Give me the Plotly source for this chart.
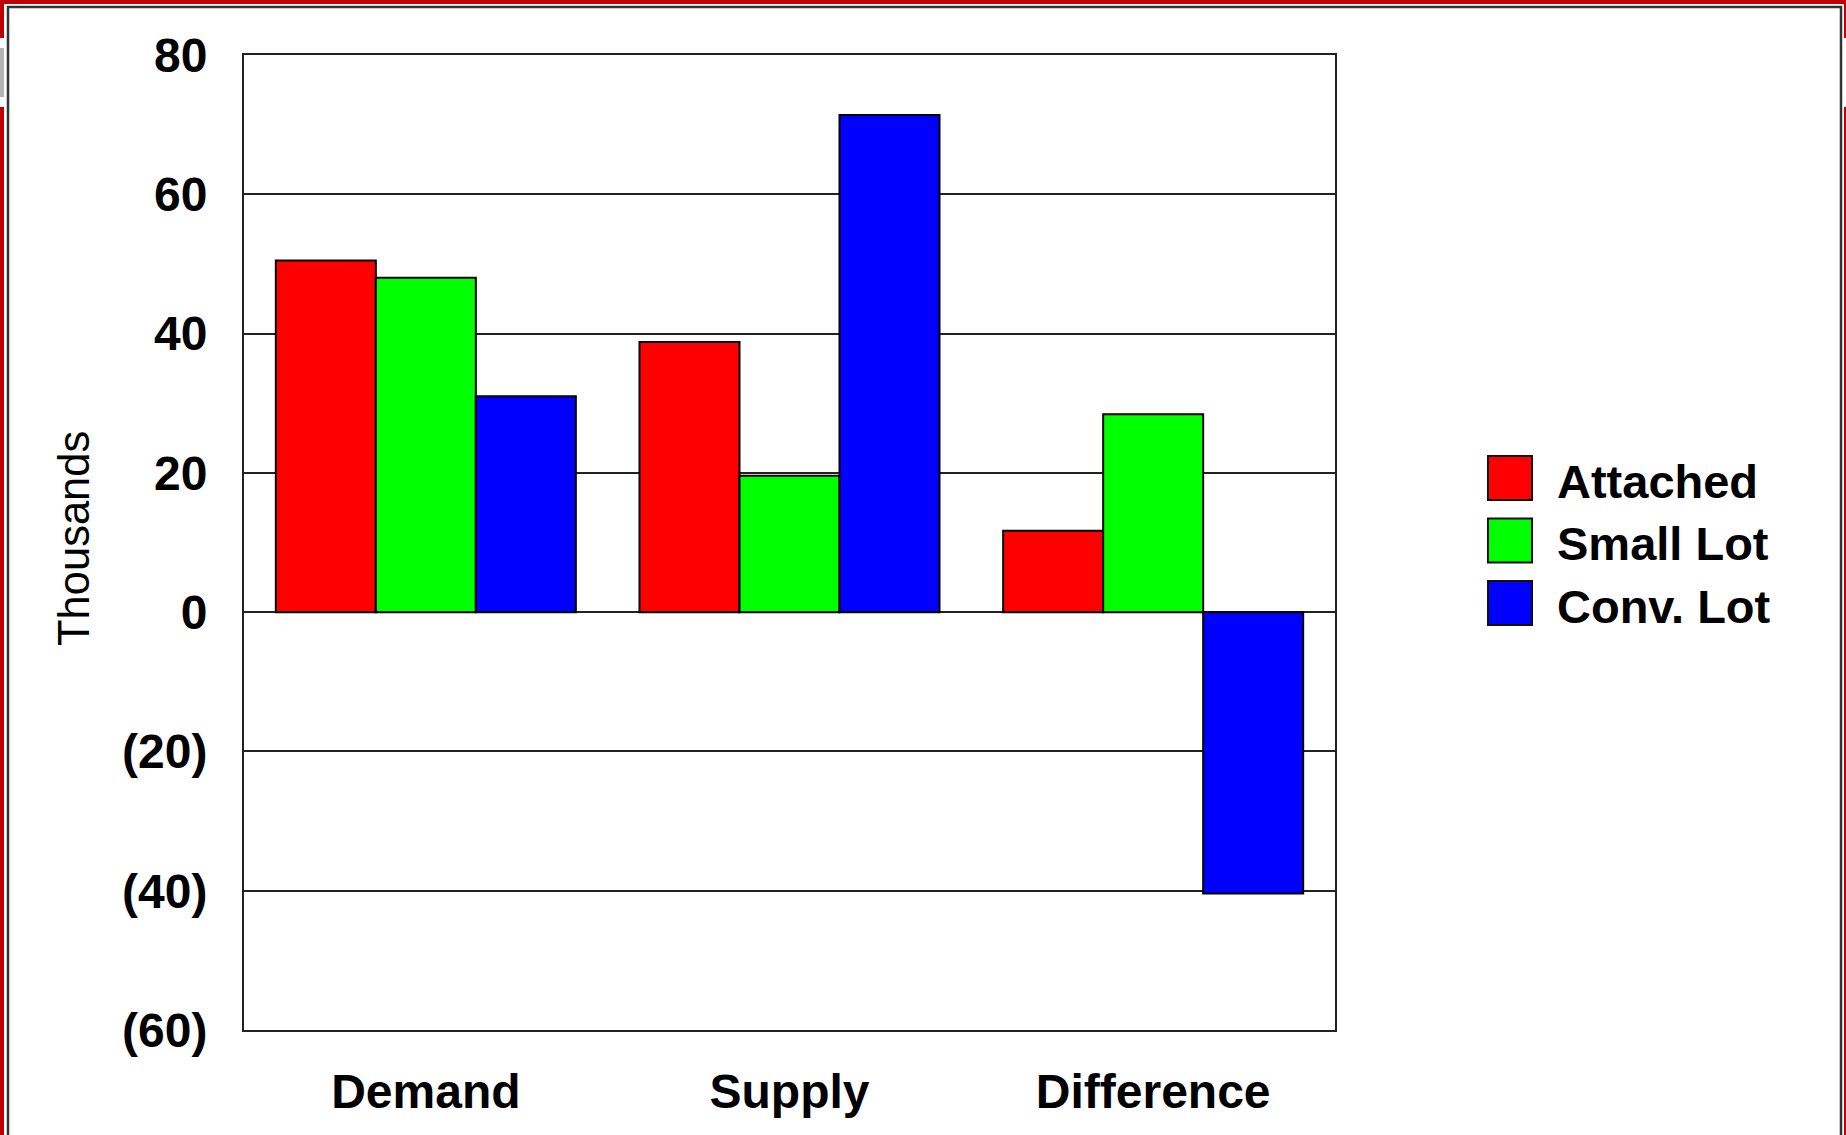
import plotly.graph_objects as go

categories = ["Demand", "Supply", "Difference"]
series_names = ["Attached", "Small Lot", "Conv. Lot"]
attached = [50.5, 38.8, 11.7]
small_lot = [48.0, 19.6, 28.4]
conv_lot = [31.0, 71.4, -40.4]
series_values = [attached, small_lot, conv_lot]
series_colors = ["#FF0000", "#00FF00", "#0000FF"]
tick_vals = [-60, -40, -20, 0, 20, 40, 60, 80]
tick_text = ["(60)", "(40)", "(20)", "0", "20", "40", "60", "80"]
y_title = "Thousands"

W, H = 1846, 1135
L, R, T, B = 244, 511, 55, 105
PW = W - L - R
PH = H - T - B


def xp(px):
    return (px - L) / PW


def yp(py):
    return (H - B - py) / PH


FONT = "Liberation Sans, Arial, sans-serif"

fig = go.Figure()
for name, vals, col in zip(series_names, series_values, series_colors):
    fig.add_trace(go.Bar(
        x=categories, y=vals, name=name,
        marker=dict(color=col, line=dict(color="#000000", width=2)),
        showlegend=False,
    ))

shapes = []
annotations = []

# custom legend
box = 44
centers = [478, 540.5, 603]
for name, col, cy in zip(series_names, series_colors, centers):
    shapes.append(dict(
        type="rect", xref="paper", yref="paper",
        x0=xp(1488), x1=xp(1488 + box), y0=yp(cy + box / 2), y1=yp(cy - box / 2),
        fillcolor=col, line=dict(color="#111111", width=2), layer="above",
    ))
    annotations.append(dict(
        xref="paper", yref="paper", x=xp(1555), y=yp(cy + 3),
        xanchor="left", yanchor="middle", showarrow=False,
        text="<b>%s</b>" % name,
        font=dict(family=FONT, size=47, color="#000000"),
    ))

annotations.append(dict(
    xref="paper", yref="paper", x=xp(74), y=yp(539),
    xanchor="center", yanchor="middle", showarrow=False, textangle=-90,
    text=y_title, font=dict(family=FONT, size=43.5, color="#000000"),
))

# window frame decoration
RED = "#C00000"
frame_rects = [
    (0, 0, W, 4, RED),
    (0, 0, 4, 38, RED),
    (0, 48, 4, 97, "#B4B4B4"),
    (0, 107, 4, H, RED),
    (1844, 0, W, 38, RED),
    (1844, 107, W, H, RED),
]
for x0, y0, x1, y1, c in frame_rects:
    shapes.append(dict(
        type="rect", xref="paper", yref="paper",
        x0=xp(x0), x1=xp(x1), y0=yp(y1), y1=yp(y0),
        fillcolor=c, line=dict(width=0), layer="above",
    ))
shapes.append(dict(
    type="rect", xref="paper", yref="paper",
    x0=xp(8), x1=xp(1841), y0=yp(H + 10), y1=yp(7),
    fillcolor="rgba(0,0,0,0)", line=dict(color="#333333", width=2.5), layer="above",
))

fig.update_layout(
    width=W, height=H,
    margin=dict(l=L, r=R, t=T, b=B, autoexpand=False),
    paper_bgcolor="#FFFFFF", plot_bgcolor="#FFFFFF",
    barmode="group", bargap=0.175, bargroupgap=0,
    shapes=shapes, annotations=annotations,
    showlegend=False,
    font=dict(family=FONT, color="#000000"),
)
fig.update_xaxes(
    showgrid=False, showline=True, mirror=True, linecolor="#222222", linewidth=2,
    ticks="", ticklabelstandoff=18,
    tickfont=dict(family=FONT, size=48, color="#000000", weight="bold"),
    fixedrange=True,
)
fig.update_yaxes(
    range=[-60, 80], tickvals=tick_vals, ticktext=tick_text,
    showgrid=True, gridcolor="#222222", gridwidth=1.5,
    zeroline=True, zerolinecolor="#222222", zerolinewidth=1.5,
    showline=True, mirror=True, linecolor="#222222", linewidth=2,
    ticks="", ticklabelstandoff=25,
    tickfont=dict(family=FONT, size=48, color="#000000", weight="bold"),
    fixedrange=True,
)

fig.write_html("out.html")
